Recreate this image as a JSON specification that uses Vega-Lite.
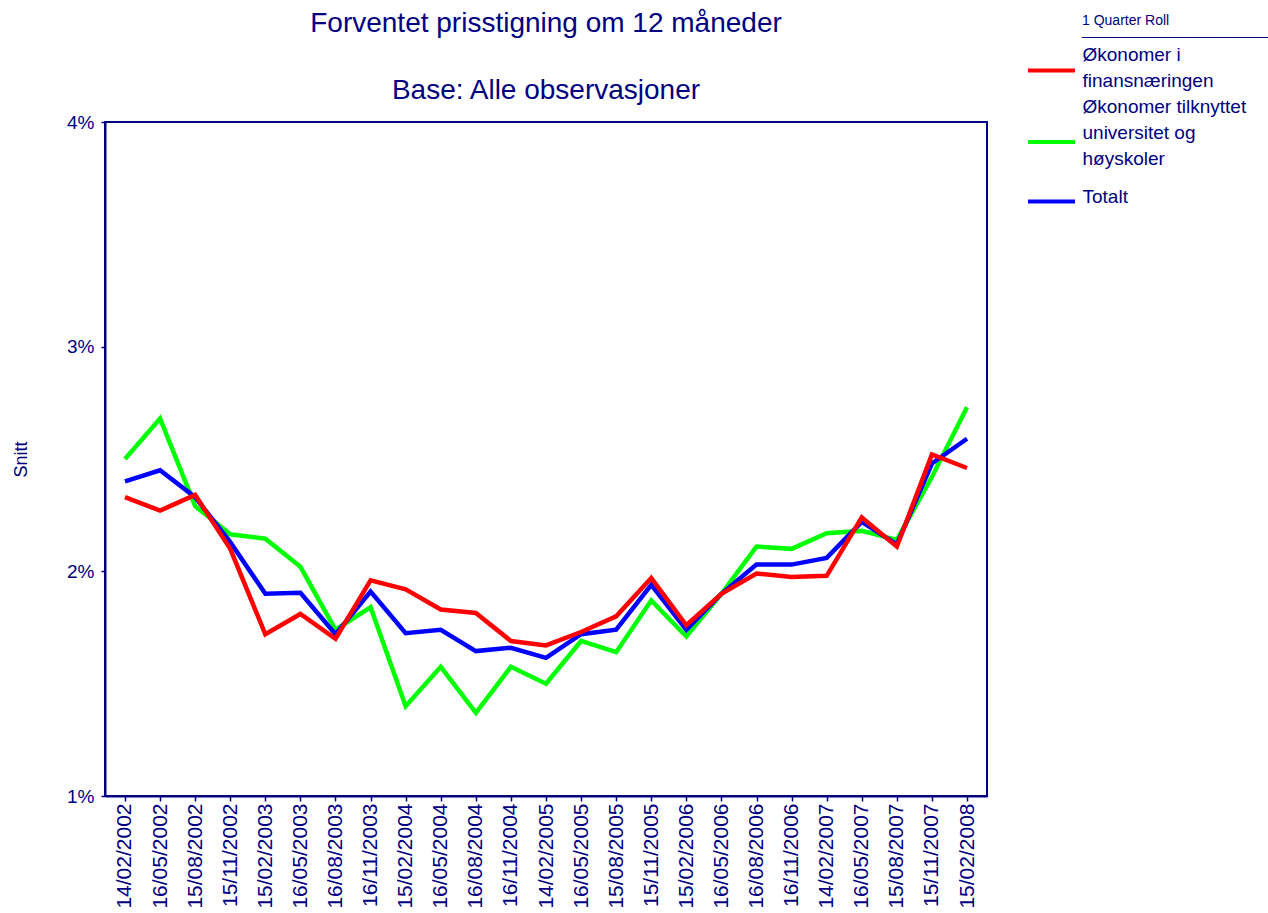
{
  "$schema": "https://vega.github.io/schema/vega-lite/v6.json",
  "width": 882,
  "height": 674,
  "autosize": {"type": "none"},
  "padding": {"left": 105, "top": 122, "right": 281, "bottom": 117},
  "background": "white",
  "config": {
    "font": "Liberation Sans",
    "view": {"stroke": "#000080", "strokeWidth": 2},
    "axis": {"grid": false, "domainColor": "#000080", "domainWidth": 2, "tickColor": "#000080", "tickWidth": 1.5, "labelColor": "#000080", "titleColor": "#000080", "labelFont": "Liberation Sans", "titleFont": "Liberation Sans", "titleFontWeight": "normal"}
  },
  "title": {
    "text": ["Forventet prisstigning om 12 måneder", "Base: Alle observasjoner"],
    "fontSize": 28,
    "fontWeight": "normal",
    "color": "#000080",
    "font": "Liberation Sans",
    "lineHeight": 67,
    "anchor": "middle",
    "frame": "group",
    "baseline": "bottom",
    "offset": 19,
    "dy": 138
  },
  "data": {
    "values": [
      {"date": "14/02/2002", "series": "Økonomer tilknyttet universitet og høyskoler", "value": 2.50},
      {"date": "16/05/2002", "series": "Økonomer tilknyttet universitet og høyskoler", "value": 2.68},
      {"date": "15/08/2002", "series": "Økonomer tilknyttet universitet og høyskoler", "value": 2.29},
      {"date": "15/11/2002", "series": "Økonomer tilknyttet universitet og høyskoler", "value": 2.165},
      {"date": "15/02/2003", "series": "Økonomer tilknyttet universitet og høyskoler", "value": 2.145},
      {"date": "16/05/2003", "series": "Økonomer tilknyttet universitet og høyskoler", "value": 2.02},
      {"date": "16/08/2003", "series": "Økonomer tilknyttet universitet og høyskoler", "value": 1.74},
      {"date": "16/11/2003", "series": "Økonomer tilknyttet universitet og høyskoler", "value": 1.84},
      {"date": "15/02/2004", "series": "Økonomer tilknyttet universitet og høyskoler", "value": 1.40},
      {"date": "16/05/2004", "series": "Økonomer tilknyttet universitet og høyskoler", "value": 1.575},
      {"date": "16/08/2004", "series": "Økonomer tilknyttet universitet og høyskoler", "value": 1.37},
      {"date": "16/11/2004", "series": "Økonomer tilknyttet universitet og høyskoler", "value": 1.575},
      {"date": "14/02/2005", "series": "Økonomer tilknyttet universitet og høyskoler", "value": 1.50},
      {"date": "16/05/2005", "series": "Økonomer tilknyttet universitet og høyskoler", "value": 1.69},
      {"date": "15/08/2005", "series": "Økonomer tilknyttet universitet og høyskoler", "value": 1.64},
      {"date": "15/11/2005", "series": "Økonomer tilknyttet universitet og høyskoler", "value": 1.87},
      {"date": "15/02/2006", "series": "Økonomer tilknyttet universitet og høyskoler", "value": 1.71},
      {"date": "16/05/2006", "series": "Økonomer tilknyttet universitet og høyskoler", "value": 1.90},
      {"date": "16/08/2006", "series": "Økonomer tilknyttet universitet og høyskoler", "value": 2.11},
      {"date": "16/11/2006", "series": "Økonomer tilknyttet universitet og høyskoler", "value": 2.10},
      {"date": "14/02/2007", "series": "Økonomer tilknyttet universitet og høyskoler", "value": 2.17},
      {"date": "16/05/2007", "series": "Økonomer tilknyttet universitet og høyskoler", "value": 2.18},
      {"date": "15/08/2007", "series": "Økonomer tilknyttet universitet og høyskoler", "value": 2.14},
      {"date": "15/11/2007", "series": "Økonomer tilknyttet universitet og høyskoler", "value": 2.42},
      {"date": "15/02/2008", "series": "Økonomer tilknyttet universitet og høyskoler", "value": 2.73},
      {"date": "14/02/2002", "series": "Totalt", "value": 2.40},
      {"date": "16/05/2002", "series": "Totalt", "value": 2.45},
      {"date": "15/08/2002", "series": "Totalt", "value": 2.33},
      {"date": "15/11/2002", "series": "Totalt", "value": 2.13},
      {"date": "15/02/2003", "series": "Totalt", "value": 1.90},
      {"date": "16/05/2003", "series": "Totalt", "value": 1.905},
      {"date": "16/08/2003", "series": "Totalt", "value": 1.72},
      {"date": "16/11/2003", "series": "Totalt", "value": 1.91},
      {"date": "15/02/2004", "series": "Totalt", "value": 1.725},
      {"date": "16/05/2004", "series": "Totalt", "value": 1.74},
      {"date": "16/08/2004", "series": "Totalt", "value": 1.645},
      {"date": "16/11/2004", "series": "Totalt", "value": 1.66},
      {"date": "14/02/2005", "series": "Totalt", "value": 1.615},
      {"date": "16/05/2005", "series": "Totalt", "value": 1.72},
      {"date": "15/08/2005", "series": "Totalt", "value": 1.74},
      {"date": "15/11/2005", "series": "Totalt", "value": 1.94},
      {"date": "15/02/2006", "series": "Totalt", "value": 1.74},
      {"date": "16/05/2006", "series": "Totalt", "value": 1.90},
      {"date": "16/08/2006", "series": "Totalt", "value": 2.03},
      {"date": "16/11/2006", "series": "Totalt", "value": 2.03},
      {"date": "14/02/2007", "series": "Totalt", "value": 2.06},
      {"date": "16/05/2007", "series": "Totalt", "value": 2.22},
      {"date": "15/08/2007", "series": "Totalt", "value": 2.12},
      {"date": "15/11/2007", "series": "Totalt", "value": 2.48},
      {"date": "15/02/2008", "series": "Totalt", "value": 2.59},
      {"date": "14/02/2002", "series": "Økonomer i finansnæringen", "value": 2.33},
      {"date": "16/05/2002", "series": "Økonomer i finansnæringen", "value": 2.27},
      {"date": "15/08/2002", "series": "Økonomer i finansnæringen", "value": 2.34},
      {"date": "15/11/2002", "series": "Økonomer i finansnæringen", "value": 2.10},
      {"date": "15/02/2003", "series": "Økonomer i finansnæringen", "value": 1.72},
      {"date": "16/05/2003", "series": "Økonomer i finansnæringen", "value": 1.81},
      {"date": "16/08/2003", "series": "Økonomer i finansnæringen", "value": 1.70},
      {"date": "16/11/2003", "series": "Økonomer i finansnæringen", "value": 1.96},
      {"date": "15/02/2004", "series": "Økonomer i finansnæringen", "value": 1.92},
      {"date": "16/05/2004", "series": "Økonomer i finansnæringen", "value": 1.83},
      {"date": "16/08/2004", "series": "Økonomer i finansnæringen", "value": 1.815},
      {"date": "16/11/2004", "series": "Økonomer i finansnæringen", "value": 1.69},
      {"date": "14/02/2005", "series": "Økonomer i finansnæringen", "value": 1.67},
      {"date": "16/05/2005", "series": "Økonomer i finansnæringen", "value": 1.73},
      {"date": "15/08/2005", "series": "Økonomer i finansnæringen", "value": 1.80},
      {"date": "15/11/2005", "series": "Økonomer i finansnæringen", "value": 1.97},
      {"date": "15/02/2006", "series": "Økonomer i finansnæringen", "value": 1.76},
      {"date": "16/05/2006", "series": "Økonomer i finansnæringen", "value": 1.90},
      {"date": "16/08/2006", "series": "Økonomer i finansnæringen", "value": 1.99},
      {"date": "16/11/2006", "series": "Økonomer i finansnæringen", "value": 1.975},
      {"date": "14/02/2007", "series": "Økonomer i finansnæringen", "value": 1.98},
      {"date": "16/05/2007", "series": "Økonomer i finansnæringen", "value": 2.24},
      {"date": "15/08/2007", "series": "Økonomer i finansnæringen", "value": 2.11},
      {"date": "15/11/2007", "series": "Økonomer i finansnæringen", "value": 2.52},
      {"date": "15/02/2008", "series": "Økonomer i finansnæringen", "value": 2.46}
    ]
  },
  "mark": {"type": "line", "strokeWidth": 4.5, "clip": true},
  "encoding": {
    "x": {
      "field": "date",
      "type": "ordinal",
      "sort": null,
      "scale": {"type": "point", "padding": 0.57},
      "axis": {"title": null, "labelAngle": 270, "labelFontSize": 21, "tickSize": 5, "labelPadding": 2, "labelOverlap": false, "labelBound": false}
    },
    "y": {
      "field": "value",
      "type": "quantitative",
      "scale": {"domain": [1, 4], "nice": false, "zero": false},
      "axis": {"title": "Snitt", "values": [1, 2, 3, 4], "labelExpr": "format(datum.value, '.0f') + '%'", "labelFontSize": 19, "tickSize": 4, "labelPadding": 7, "titleFontSize": 18, "titlePadding": 36}
    },
    "color": {
      "field": "series",
      "type": "nominal",
      "scale": {
        "domain": ["Økonomer i finansnæringen", "Økonomer tilknyttet universitet og høyskoler", "Totalt"],
        "range": ["#ff0000", "#00ff00", "#0000ff"]
      },
      "legend": {
        "title": ["1 Quarter Roll", "________________________"],
        "titleFontSize": 14,
        "titleLineHeight": 10,
        "titleLimit": 400,
        "titleFontWeight": "normal",
        "titleColor": "#000080",
        "titlePadding": 7,
        "labelFontSize": 19,
        "labelColor": "#000080",
        "labelLimit": 400,
        "labelOffset": 5.5,
        "symbolType": "stroke",
        "symbolStrokeWidth": 4,
        "symbolSize": 64,
        "rowPadding": 6.5,
        "gridAlign": "none",
        "padding": 0,
        "orient": "none",
        "legendX": 921,
        "legendY": -108,
        "labelExpr": "datum.value == 'Totalt' ? 'Totalt' : datum.value == 'Økonomer i finansnæringen' ? ['Økonomer i', 'finansnæringen'] : ['Økonomer tilknyttet', 'universitet og', 'høyskoler']",
        "encode": {
          "title": {"update": {"dx": {"value": 56}}},
          "symbols": {"update": {"size": {"value": 2209}}},
          "labels": {"update": {"lineHeight": {"value": 26}, "dy": {"signal": "datum.value == 'Totalt' ? -5 : datum.value == 'Økonomer i finansnæringen' ? -16 : -35"}}}
        }
      }
    }
  }
}
